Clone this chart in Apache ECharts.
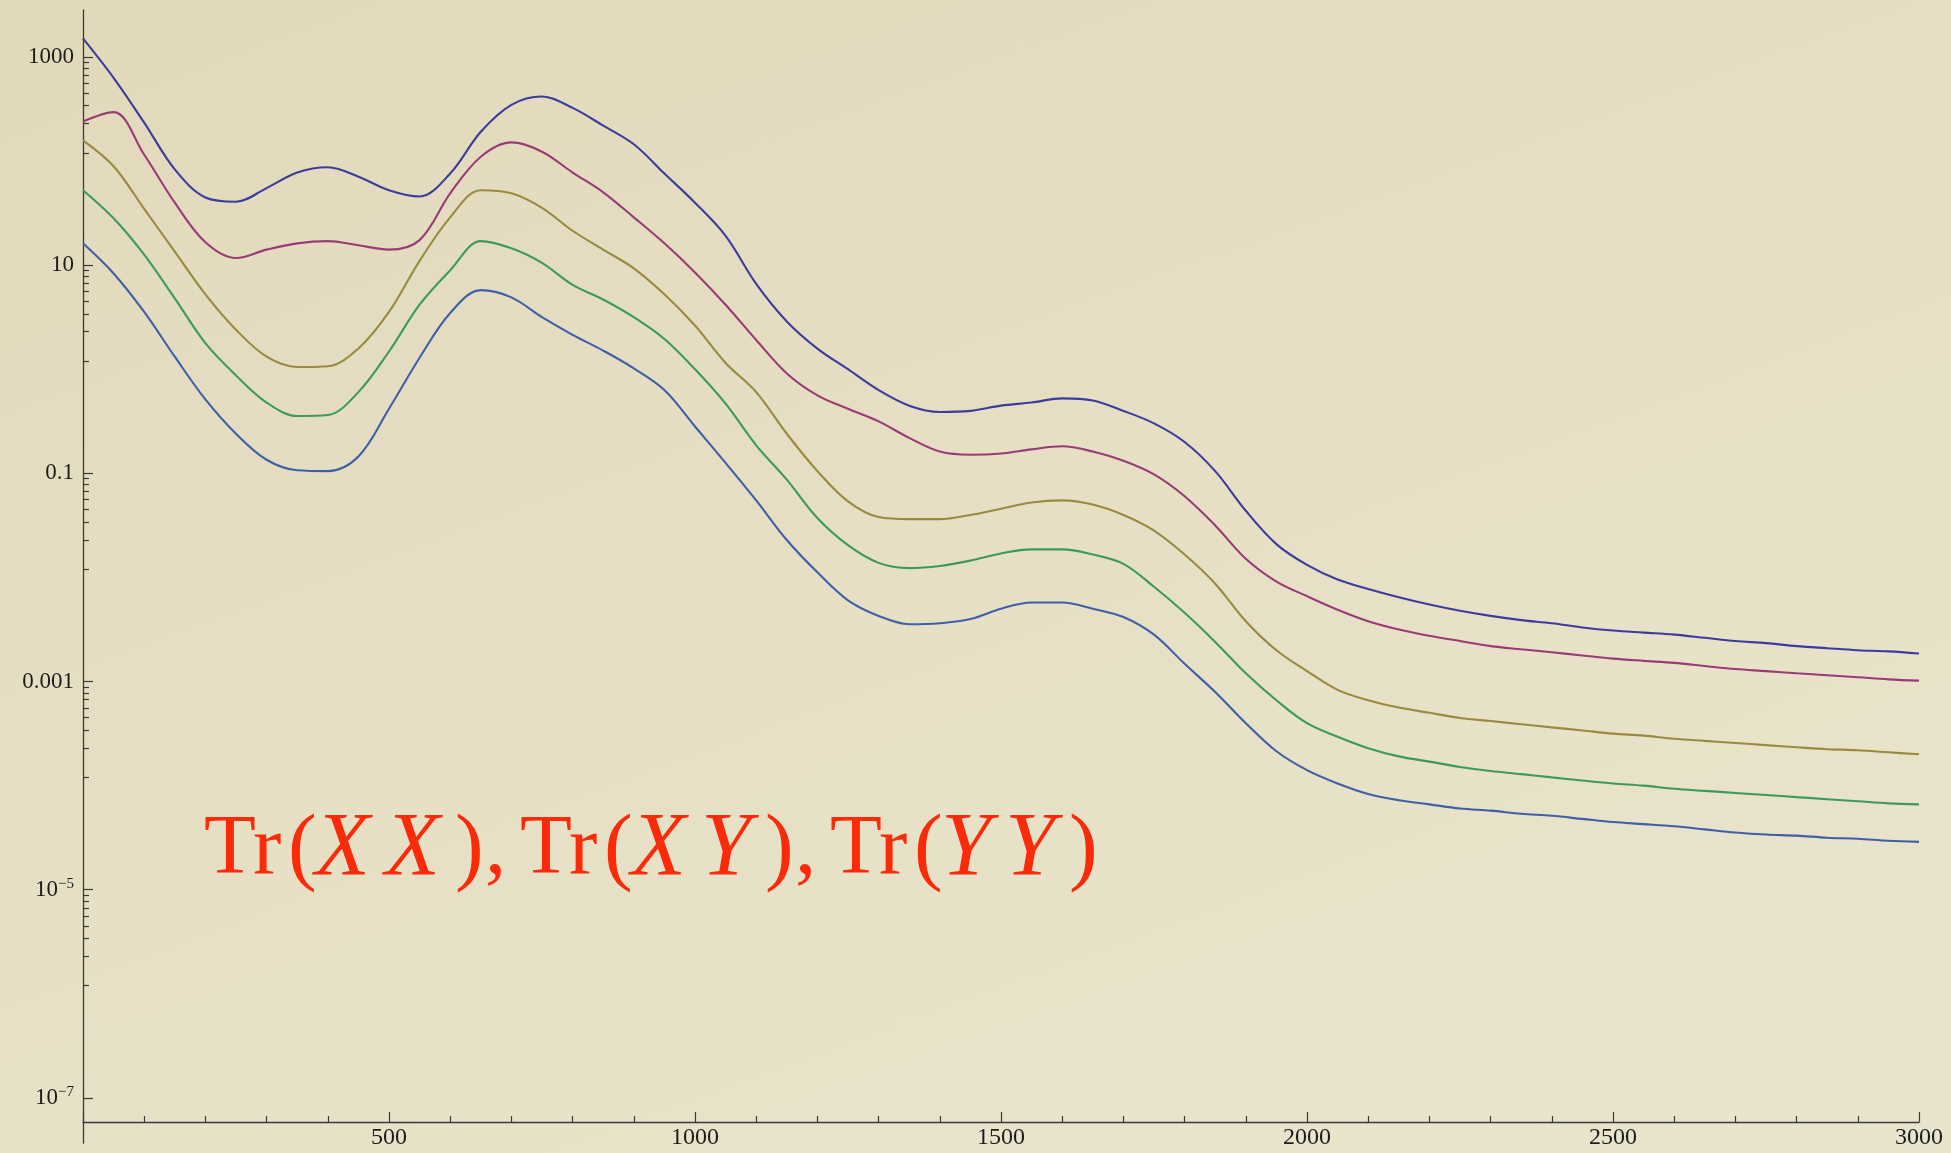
<!DOCTYPE html>
<html>
<head>
<meta charset="utf-8">
<title>Tr(XX), Tr(XY), Tr(YY)</title>
<script src="https://cdn.jsdelivr.net/npm/echarts@6/dist/echarts.min.js"></script>
<style>
  html, body { margin: 0; padding: 0; }
  body {
    width: 1951px; height: 1153px; overflow: hidden;
    background: linear-gradient(160deg, #e2d9bb 0%, #e6dfc4 45%, #e9e5cd 100%);
  }
  #chart { width: 1951px; height: 1153px; }
</style>
</head>
<body>
<div id="chart"></div>
<script>
// sample positions along the horizontal axis
const xs = [
  0, 50, 100, 150, 200, 250, 300, 350, 400, 450,
  500, 550, 600, 650, 700, 750, 800, 850, 900, 950,
  1000, 1050, 1100, 1150, 1200, 1250, 1300, 1350, 1400, 1450,
  1500, 1550, 1600, 1650, 1700, 1750, 1800, 1850, 1900, 1950,
  2000, 2050, 2100, 2150, 2200, 2250, 2300, 2350, 2400, 2450,
  2500, 2550, 2600, 2650, 2700, 2750, 2800, 2850, 2900, 2950, 3000
];

// five traces, top to bottom
const traceIndigo = [
  1510, 631, 234, 83.2, 44.7, 40.7, 55.0, 77.6, 87.1, 70.8,
  52.5, 45.7, 75.9, 191, 347, 417, 324, 219, 145, 75.9,
  39.8, 19.1, 6.61, 2.88, 1.58, 1.00, 0.631, 0.447, 0.389, 0.398,
  0.447, 0.479, 0.525, 0.501, 0.398, 0.302, 0.200, 0.105, 0.0437, 0.0209,
  0.0132, 9.55e-3, 7.76e-3, 6.46e-3, 5.50e-3, 4.79e-3, 4.27e-3, 3.89e-3, 3.63e-3, 3.31e-3,
  3.09e-3, 2.95e-3, 2.82e-3, 2.63e-3, 2.45e-3, 2.34e-3, 2.19e-3, 2.09e-3, 2.00e-3, 1.95e-3, 1.86e-3
];
const traceMagenta = [
  240, 295, 115, 39.8, 16.6, 11.7, 14.1, 16.2, 17.0, 15.5,
  14.1, 17.4, 49.0, 110, 151, 123, 77.6, 50.1, 28.8, 16.2,
  8.51, 4.17, 1.91, 0.912, 0.562, 0.417, 0.316, 0.219, 0.162, 0.151,
  0.155, 0.170, 0.182, 0.162, 0.132, 0.0977, 0.0603, 0.0316, 0.0151, 9.12e-3,
  6.61e-3, 4.90e-3, 3.80e-3, 3.16e-3, 2.75e-3, 2.45e-3, 2.19e-3, 2.04e-3, 1.91e-3, 1.78e-3,
  1.66e-3, 1.58e-3, 1.51e-3, 1.41e-3, 1.32e-3, 1.26e-3, 1.20e-3, 1.15e-3, 1.10e-3, 1.05e-3, 1.02e-3
];
const traceOlive = [
  158, 89.1, 34.7, 13.5, 5.25, 2.40, 1.32, 1.05, 1.07, 1.58,
  3.55, 11.0, 28.8, 52.5, 49.0, 35.5, 21.4, 14.1, 9.33, 5.25,
  2.63, 1.15, 0.603, 0.240, 0.105, 0.0537, 0.0380, 0.0363, 0.0363, 0.0398,
  0.0457, 0.0525, 0.0550, 0.0501, 0.0398, 0.0282, 0.0166, 8.71e-3, 3.80e-3, 2.00e-3,
  1.26e-3, 8.32e-4, 6.61e-4, 5.62e-4, 5.01e-4, 4.47e-4, 4.17e-4, 3.89e-4, 3.63e-4, 3.39e-4,
  3.16e-4, 3.02e-4, 2.82e-4, 2.69e-4, 2.57e-4, 2.45e-4, 2.34e-4, 2.24e-4, 2.19e-4, 2.09e-4, 2.00e-4
];
const traceGreen = [
  52.5, 28.2, 12.6, 4.79, 1.78, 0.871, 0.479, 0.355, 0.363, 0.603,
  1.48, 4.17, 8.91, 17.0, 14.5, 10.5, 6.46, 4.68, 3.16, 1.95,
  1.00, 0.468, 0.186, 0.0871, 0.0372, 0.0204, 0.0138, 0.0123, 0.0129, 0.0145,
  0.0170, 0.0186, 0.0186, 0.0166, 0.0135, 8.13e-3, 4.57e-3, 2.40e-3, 1.20e-3, 6.61e-4,
  3.98e-4, 2.95e-4, 2.29e-4, 1.91e-4, 1.70e-4, 1.51e-4, 1.38e-4, 1.29e-4, 1.20e-4, 1.12e-4,
  1.05e-4, 1.00e-4, 9.33e-5, 8.91e-5, 8.51e-5, 8.13e-5, 7.76e-5, 7.41e-5, 7.08e-5, 6.76e-5, 6.61e-5
];
const traceBlue = [
  16.2, 8.32, 3.55, 1.32, 0.513, 0.240, 0.135, 0.107, 0.105, 0.145,
  0.417, 1.29, 3.47, 5.75, 4.90, 3.16, 2.14, 1.51, 1.02, 0.631,
  0.282, 0.126, 0.0550, 0.0229, 0.0112, 6.03e-3, 4.27e-3, 3.55e-3, 3.63e-3, 3.98e-3,
  5.01e-3, 5.75e-3, 5.75e-3, 5.01e-3, 4.17e-3, 2.82e-3, 1.48e-3, 7.94e-4, 3.98e-4, 2.14e-4,
  1.41e-4, 1.05e-4, 8.32e-5, 7.24e-5, 6.61e-5, 6.03e-5, 5.75e-5, 5.37e-5, 5.13e-5, 4.79e-5,
  4.47e-5, 4.27e-5, 4.07e-5, 3.80e-5, 3.55e-5, 3.39e-5, 3.31e-5, 3.16e-5, 3.09e-5, 2.95e-5, 2.88e-5
];

const traces = [traceIndigo, traceMagenta, traceOlive, traceGreen, traceBlue];
const traceColors = ['#3d3c9c', '#983b76', '#9a8a3e', '#3b9a5c', '#3f5fa8'];

// labelled ticks on the logarithmic axis
const yTickValues = [1e-7, 1e-5, 1e-3, 0.1, 10, 1000];
const yTickTexts = ['{b|10}{s|\u22127}', '{b|10}{s|\u22125}', '0.001', '0.1', '10', '1000'];

// between labelled ticks the axis carries eight evenly spaced marks in the upper decade
const yMinorTicks = [];
for (let k = -5; k <= 3; k += 2) {
  const hi = Math.pow(10, k), lo = Math.pow(10, k - 2);
  for (let j = 1; j <= 8; j++) yMinorTicks.push(hi - j * (hi - lo) / 9);
}

const yMin = 3.69e-8;
const yMax = 2825;

const serifFont = '"Liberation Serif", "Times New Roman", serif';
const titleRed = '#fb2a08';
const inkColor = '#1c1c1c';
const axisColor = '#3a3a38';

const chart = echarts.init(document.getElementById('chart'), null, { renderer: 'canvas' });

const yAxisCommon = {
  type: 'log',
  logBase: 10,
  min: yMin,
  max: yMax,
  gridIndex: 0,
  position: 'left',
  splitLine: { show: false },
  minorTick: { show: false },
  minorSplitLine: { show: false }
};

chart.setOption({
  backgroundColor: 'transparent',
  animation: false,
  grid: { left: 83, right: 32, top: 10, bottom: 10, containLabel: false },
  xAxis: {
    type: 'value',
    min: 0,
    max: 3000,
    interval: 500,
    offset: -21,
    axisLine: { show: true, lineStyle: { color: axisColor, width: 1.3 } },
    axisTick: { show: true, inside: true, length: 10, lineStyle: { color: axisColor, width: 1.2 } },
    minorTick: { show: true, splitNumber: 5, length: 6, lineStyle: { color: axisColor, width: 1.2 } },
    splitLine: { show: false },
    axisLabel: {
      show: true,
      margin: 4,
      color: inkColor,
      fontFamily: serifFont,
      fontSize: 24,
      formatter: function (v) { return v === 0 ? '' : String(v); }
    }
  },
  yAxis: [
    Object.assign({}, yAxisCommon, {
      axisLine: { show: true, lineStyle: { color: axisColor, width: 1.3 } },
      axisTick: {
        show: true, inside: true, length: 10,
        customValues: yTickValues,
        lineStyle: { color: axisColor, width: 1.2 }
      },
      axisLabel: {
        show: true,
        margin: 9,
        color: inkColor,
        fontFamily: serifFont,
        fontSize: 23,
        customValues: yTickValues,
        formatter: function (v) {
          const e = Math.round(Math.log10(v));
          const i = yTickValues.findIndex(t => Math.round(Math.log10(t)) === e);
          return i >= 0 ? yTickTexts[i] : '';
        },
        rich: {
          b: { fontFamily: serifFont, fontSize: 23, lineHeight: 27, color: inkColor },
          s: { fontFamily: serifFont, fontSize: 15, lineHeight: 15, verticalAlign: 'top', color: inkColor }
        }
      }
    }),
    Object.assign({}, yAxisCommon, {
      axisLine: { show: false },
      axisTick: {
        show: true, inside: true, length: 6,
        customValues: yMinorTicks,
        lineStyle: { color: axisColor, width: 1.2 }
      },
      axisLabel: { show: false }
    })
  ],
  series: traces.map((vals, i) => ({
    type: 'line',
    xAxisIndex: 0,
    yAxisIndex: 0,
    data: xs.map((x, j) => [x, vals[j]]),
    showSymbol: false,
    smooth: 0.35,
    clip: true,
    lineStyle: { color: traceColors[i], width: 2.1 },
    z: 10 - i
  })),
  graphic: [{
    type: 'text',
    left: 204,
    top: 806,
    z: 20,
    style: {
      text: '{tr|Tr}{lp|(}{xi|X}{xi|X}{rp|)}{cm|,}{tr|Tr}{lp|(}{xi|X}{yi|Y}{rp|)}{cm|,}{tr|Tr}{lp|(}{yi|Y}{yi|Y}{rp|)}',
      fill: titleRed,
      font: '84px ' + serifFont,
      rich: {
        tr: { fontFamily: serifFont, fontSize: 85, width: 84, lineHeight: 100, fill: titleRed, color: titleRed },
        lp: { fontFamily: serifFont, fontSize: 86, fontWeight: 'lighter', width: 27, lineHeight: 100, fill: titleRed, color: titleRed },
        rp: { fontFamily: serifFont, fontSize: 86, fontWeight: 'lighter', width: 30, lineHeight: 100, fill: titleRed, color: titleRed },
        cm: { fontFamily: serifFont, fontSize: 85, width: 35, lineHeight: 100, fill: titleRed, color: titleRed },
        xi: { fontFamily: serifFont, fontSize: 90, fontStyle: 'italic', width: 70, lineHeight: 100, fill: titleRed, color: titleRed },
        yi: { fontFamily: serifFont, fontSize: 90, fontStyle: 'italic', width: 64, lineHeight: 100, fill: titleRed, color: titleRed }
      }
    }
  }]
});
</script>
</body>
</html>
